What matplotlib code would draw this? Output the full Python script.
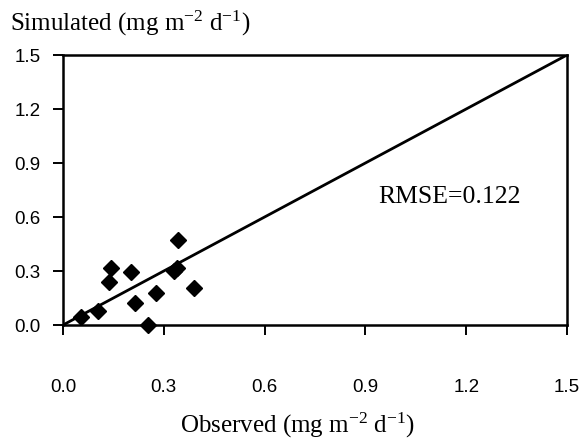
import matplotlib
matplotlib.use("Agg")
import matplotlib.pyplot as plt

observed = [0.343, 0.143, 0.202, 0.138, 0.330, 0.338, 0.391, 0.276, 0.214, 0.103, 0.054, 0.252]
simulated = [0.472, 0.318, 0.293, 0.237, 0.300, 0.318, 0.207, 0.180, 0.124, 0.078, 0.046, 0.0]
line_x = [0.0, 1.5]
line_y = [0.0, 1.5]
ticks = [0.0, 0.3, 0.6, 0.9, 1.2, 1.5]
tick_labels = ["0.0", "0.3", "0.6", "0.9", "1.2", "1.5"]
rmse_text = "RMSE=0.122"

plt.rcParams['mathtext.fontset'] = 'custom'
plt.rcParams['mathtext.rm'] = 'Liberation Serif'
plt.rcParams['mathtext.it'] = 'Liberation Serif'

fig = plt.figure(figsize=(5.82, 4.46), dpi=100)
ax = fig.add_axes([63/582, 1-325/446, 504/582, 270/446])

ax.plot(line_x, line_y, color='black', lw=2.0, zorder=2)
ax.plot(observed, simulated, linestyle='none', marker='D', markersize=8.5,
        color='black', zorder=3, clip_on=False)

ax.set_xlim(0, 1.5)
ax.set_ylim(0, 1.5)
ax.set_xticks(ticks)
ax.set_xticklabels(tick_labels, family='Liberation Sans', fontsize=13.5)
ax.set_yticks(ticks)
ax.set_yticklabels(tick_labels, family='Liberation Sans', fontsize=13.5)
ax.tick_params(axis='x', direction='out', length=7, width=1.4, pad=32)
ax.tick_params(axis='y', direction='out', length=7, width=1.4, pad=9)
for s in ax.spines.values():
    s.set_linewidth(1.8)

ax.text(1.15, 0.711, rmse_text, family='Liberation Serif', fontsize=18.5,
        ha='center', va='center')

fig.text(10/582, 1-31/446, r'Simulated (mg m$^{\mathrm{-2}}$ d$^{\mathrm{-1}}$)',
         family='Liberation Serif', fontsize=18, ha='left', va='baseline')
fig.text(297/582, 1-433/446, r'Observed (mg m$^{\mathrm{-2}}$ d$^{\mathrm{-1}}$)',
         family='Liberation Serif', fontsize=18, ha='center', va='baseline')

fig.savefig("out.png", dpi=100)
